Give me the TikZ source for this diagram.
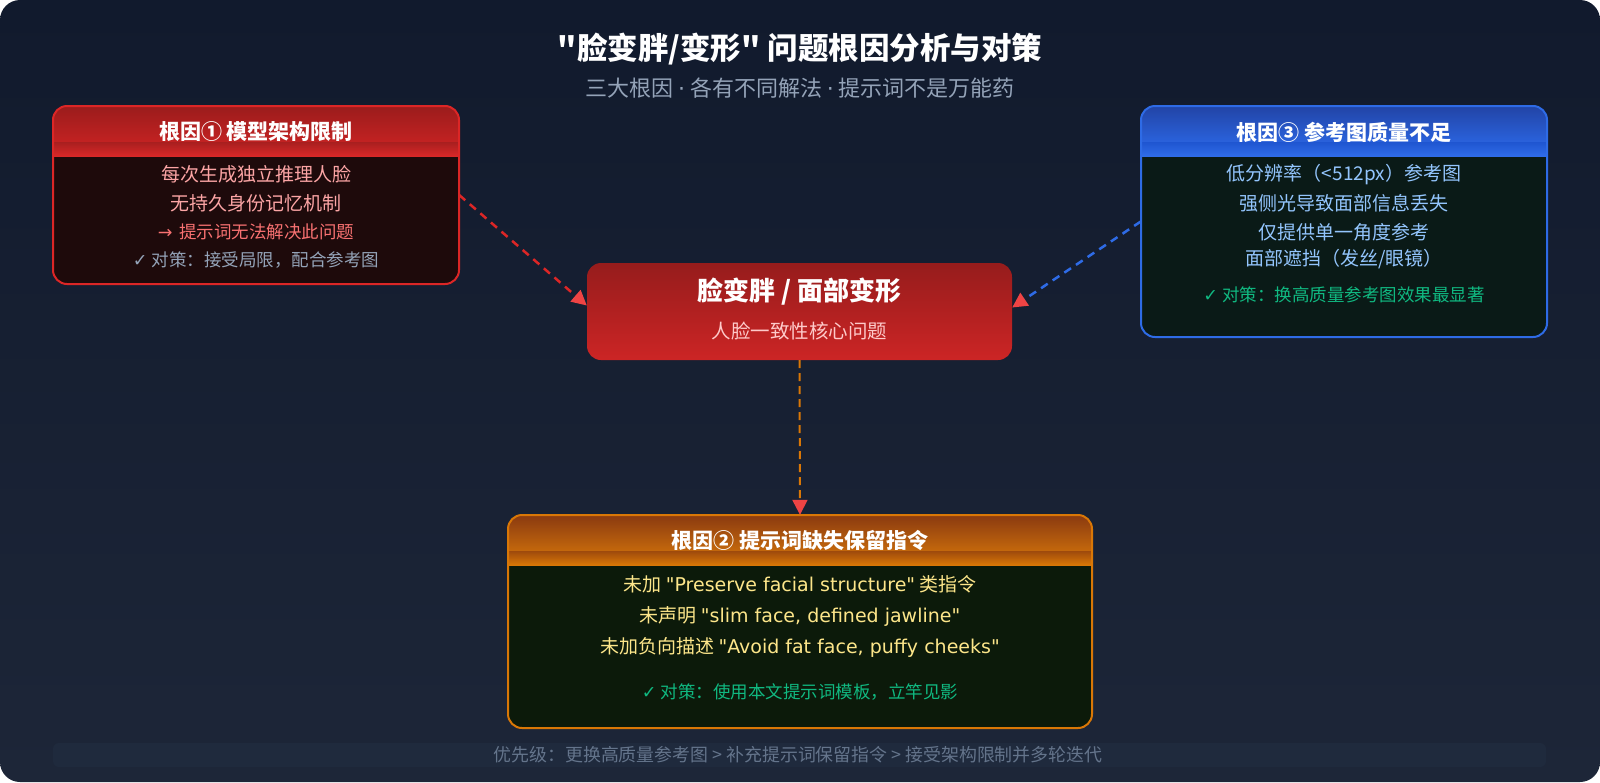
\documentclass[tikz,border=0pt]{standalone}
\usepackage{fontspec}
\newfontfamily\cjkfont{Noto Sans CJK SC}
\newfontfamily\symfont{DejaVu Sans}
\newfontfamily\latfont{DejaVu Sans}
\usetikzlibrary{arrows.meta}
\definecolor{bgtop}{HTML}{111A2D}
\definecolor{bgbot}{HTML}{1D2638}
\definecolor{barcol}{HTML}{1F2A3D}
\definecolor{redb}{HTML}{DC2626}
\definecolor{redbody}{HTML}{1E0A0B}
\definecolor{redh1}{HTML}{9B1C1C}
\definecolor{redh2}{HTML}{C22222}
\definecolor{reds1}{HTML}{A81F1F}
\definecolor{reds2}{HTML}{D82828}
\definecolor{blueb}{HTML}{2E6BE6}
\definecolor{bluebody}{HTML}{0A1A17}
\definecolor{blueh1}{HTML}{2244A6}
\definecolor{blueh2}{HTML}{2A62DC}
\definecolor{blues1}{HTML}{1F55D0}
\definecolor{blues2}{HTML}{2F6CE8}
\definecolor{orab}{HTML}{D97706}
\definecolor{orabody}{HTML}{0C1A0A}
\definecolor{orah1}{HTML}{8A3A10}
\definecolor{orah2}{HTML}{C4680C}
\definecolor{oras1}{HTML}{9E4A0C}
\definecolor{oras2}{HTML}{D97706}
\definecolor{ctop}{HTML}{961C1C}
\definecolor{cbot}{HTML}{CC2525}
\definecolor{arrowred}{HTML}{EF4444}
\definecolor{pinktxt}{HTML}{FCA5A5}
\definecolor{redtxt}{HTML}{F87171}
\definecolor{graytxt}{HTML}{94A3B8}
\definecolor{dimtxt}{HTML}{64748B}
\definecolor{bluetxt}{HTML}{93C5FD}
\definecolor{greentxt}{HTML}{10B981}
\definecolor{yeltxt}{HTML}{FDE68A}
\definecolor{subpink}{HTML}{FECACA}
\newcommand\myfs[1]{\fontsize{#1}{#1}\selectfont}
\begin{document}
\cjkfont
\begin{tikzpicture}[x=1pt,y=-1pt,
  txt/.style={inner sep=0pt,anchor=center,font=\cjkfont},
  boxnode/.style={inner sep=0pt,draw=none},
  conn/.style={dash pattern=on 8pt off 6pt,line width=2.5pt},
  tip/.style={-{Triangle[length=15pt,width=15pt,fill=arrowred,color=arrowred]}}
]
\useasboundingbox (0,0) rectangle (1600,782);
\fill[white] (0,0) rectangle (1600,782);
\shade[top color=bgtop,bottom color=bgbot,rounded corners=20pt] (0,0) rectangle (1600,782);

% title
\node[txt,text=white] (title) at (800,49) {\myfs{30.5}\bfseries "脸变胖/变形" 问题根因分析与对策};
\node[txt,text=graytxt] (subtitle) at (800,88) {\myfs{22}三大根因 {\symfont ·} 各有不同解法 {\symfont ·} 提示词不是万能药};

% ---------- box 1 ----------
\node[boxnode,minimum width=406pt,minimum height=178pt] (b1) at (256,195) {};
\fill[redbody,rounded corners=14pt] (53,106) rectangle (459,284);
\begin{scope}
  \clip[rounded corners=14pt] (53,106) rectangle (459,284);
  \shade[top color=redh1,bottom color=redh2] (53,106) rectangle (459,142);
  \shade[top color=reds1,bottom color=reds2] (53,142) rectangle (459,156);
\end{scope}
\draw[redb,line width=2pt,rounded corners=14pt] (53,106) rectangle (459,284);
\node[txt,text=white] (b1t) at (256,132) {\myfs{21}\bfseries 根因① 模型架构限制};
\node[txt,text=pinktxt] (b1a) at (256,174) {\myfs{19}每次生成独立推理人脸};
\node[txt,text=pinktxt] (b1b) at (256,203) {\myfs{19}无持久身份记忆机制};
\node[txt,text=redtxt] (b1c) at (256,232) {\myfs{17.5}{\symfont →}\, 提示词无法解决此问题};
\node[txt,text=graytxt] (b1d) at (256,260) {\myfs{17.5}{\symfont ✓} 对策：接受局限，配合参考图};

% ---------- box 3 ----------
\node[boxnode,minimum width=406pt,minimum height=231pt] (b3) at (1344,221.5) {};
\fill[bluebody,rounded corners=14pt] (1141,106) rectangle (1547,337);
\begin{scope}
  \clip[rounded corners=14pt] (1141,106) rectangle (1547,337);
  \shade[top color=blueh1,bottom color=blueh2] (1141,106) rectangle (1547,142);
  \shade[top color=blues1,bottom color=blues2] (1141,142) rectangle (1547,156);
\end{scope}
\draw[blueb,line width=2pt,rounded corners=14pt] (1141,106) rectangle (1547,337);
\node[txt,text=white] (b3t) at (1344,132) {\myfs{21}\bfseries 根因③ 参考图质量不足};
\node[txt,text=bluetxt] (b3a) at (1344,175) {\myfs{19}低分辨率（<512px）参考图};
\node[txt,text=bluetxt] (b3b) at (1344,203) {\myfs{19}强侧光导致面部信息丢失};
\node[txt,text=bluetxt] (b3c) at (1344,232) {\myfs{19}仅提供单一角度参考};
\node[txt,text=bluetxt] (b3d) at (1344,259) {\myfs{19}面部遮挡（发丝/眼镜）};
\node[txt,text=greentxt] (b3e) at (1344,295) {\myfs{17.5}{\symfont ✓} 对策：换高质量参考图效果最显著};

% ---------- centre ----------
\node[boxnode,minimum width=425pt,minimum height=97pt] (c) at (799.5,311.5) {};
\shade[top color=ctop,bottom color=cbot,rounded corners=14pt] (587,263) rectangle (1012,360);
\node[txt,text=white] (ct) at (799.5,292) {\myfs{26}\bfseries 脸变胖 / 面部变形};
\node[txt,text=subpink] (cs) at (799.5,331) {\myfs{19.5}人脸一致性核心问题};

% ---------- box 2 ----------
\node[boxnode,minimum width=584pt,minimum height=213pt] (b2) at (800,621.5) {};
\fill[orabody,rounded corners=14pt] (508,515) rectangle (1092,728);
\begin{scope}
  \clip[rounded corners=14pt] (508,515) rectangle (1092,728);
  \shade[top color=orah1,bottom color=orah2] (508,515) rectangle (1092,551);
  \shade[top color=oras1,bottom color=oras2] (508,551) rectangle (1092,565);
\end{scope}
\draw[orab,line width=2pt,rounded corners=14pt] (508,515) rectangle (1092,728);
\node[txt,text=white] (b2t) at (800,540) {\myfs{21}\bfseries 根因② 提示词缺失保留指令};
\node[txt,text=yeltxt] (b2a) at (800,584) {\myfs{19}未加 {\latfont "Preserve facial structure"} 类指令};
\node[txt,text=yeltxt] (b2b) at (800,616) {\myfs{19}未声明 {\latfont "slim face, defined jawline"}};
\node[txt,text=yeltxt] (b2c) at (800,647) {\myfs{19}未加负向描述 {\latfont "Avoid fat face, puffy cheeks"}};
\node[txt,text=greentxt] (b2d) at (800,692) {\myfs{17.5}{\symfont ✓} 对策：使用本文提示词模板，立竿见影};

% ---------- bottom bar ----------
\fill[barcol,rounded corners=6pt] (53,743) rectangle (1546,767);
\node[txt,text=dimtxt] (foot) at (798,755) {\myfs{17.9}优先级：更换高质量参考图 > 补充提示词保留指令 > 接受架构限制并多轮迭代};

% ---------- connectors ----------
\draw[conn,redb,tip] (b1.east) -- ([yshift=6pt]c.west);
\draw[conn,blueb,tip] (b3.west) -- ([yshift=4pt]c.east);
\draw[conn,orab,line width=2pt,dash pattern=on 8pt off 5pt,tip] (c.south) -- (b2.north);
\end{tikzpicture}
\end{document}
